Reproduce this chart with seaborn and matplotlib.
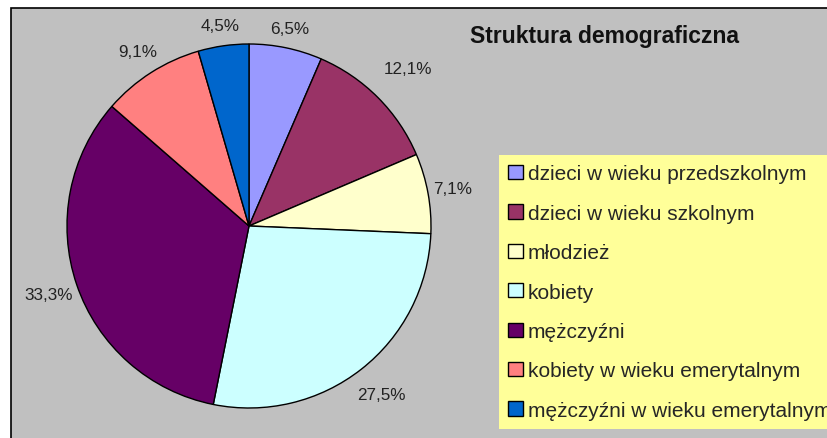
"""Pie chart: Struktura demograficzna."""

import matplotlib

matplotlib.use("Agg")
import matplotlib.pyplot as plt
from matplotlib.patches import Patch, Rectangle
import seaborn as sns

CATEGORIES = [
    "dzieci w wieku przedszkolnym",
    "dzieci w wieku szkolnym",
    "młodzież",
    "kobiety",
    "mężczyźni",
    "kobiety w wieku emerytalnym",
    "mężczyźni w wieku emerytalnym",
]
SHARES = [6.5, 12.1, 7.1, 27.5, 33.3, 9.1, 4.5]
COLORS = ["#9999FF", "#993366", "#FFFFCC", "#CCFFFF", "#660066", "#FF8080", "#0066CC"]
TITLE = "Struktura demograficzna"

# radial distance of each percentage label (fraction of pie radius)
LABEL_RADIUS = [1.11, 1.23, 1.14, 1.18, 1.165, 1.135, 1.115]

sns.set_theme(style="white")
plt.rcParams["font.family"] = ["Liberation Sans", "DejaVu Sans"]

W, H = 828, 439
fig = plt.figure(figsize=(W / 100, H / 100), dpi=100)
fig.patch.set_facecolor("white")

# gray chart area with black border on left/top (right/bottom run off the image)
fig.add_artist(
    Rectangle((11 / W, -0.05), 1.1, 1 - 9 / H + 0.05, transform=fig.transFigure,
              facecolor="#C0C0C0", edgecolor="black", linewidth=1.2, zorder=0)
)

palette = sns.color_palette(COLORS)
total = sum(SHARES)

cx, cy, r = 249, 227, 182
ax = fig.add_axes([(cx - r) / W, (H - cy - r) / H, 2 * r / W, 2 * r / H])
wedges, _, autotexts = ax.pie(
    SHARES,
    colors=palette,
    startangle=90,
    counterclock=False,
    autopct=lambda p: f"{p * total / 100:.1f}%".replace(".", ","),
    pctdistance=1.15,
    wedgeprops=dict(edgecolor="black", linewidth=1),
    textprops=dict(fontsize=12.3, color="#222222"),
)
for t, k in zip(autotexts, LABEL_RADIUS):
    x, y = t.get_position()
    t.set_position((x / 1.15 * k, y / 1.15 * k))
ax.set_xlim(-1, 1)
ax.set_ylim(-1, 1)
ax.set_aspect("equal")
ax.axis("off")

fig.text(605 / W, 1 - 36 / H, TITLE, ha="center", va="center",
         fontsize=16.5, fontweight="bold", color="#111111")

handles = [Patch(facecolor=c, edgecolor="black", linewidth=1) for c in palette]
leg = fig.legend(
    handles, CATEGORIES,
    loc="upper left", bbox_to_anchor=(499 / W, 1 - 156 / H),
    frameon=True, fancybox=False, facecolor="#FFFF99", edgecolor="#FFFF99",
    fontsize=15, handlelength=0.68, handleheight=0.68, handletextpad=0.25,
    labelspacing=0.98, borderpad=0.45, borderaxespad=0,
)
leg.get_frame().set_linewidth(0)
leg.get_frame().set_alpha(1)

fig.savefig("out.png", dpi=100)
